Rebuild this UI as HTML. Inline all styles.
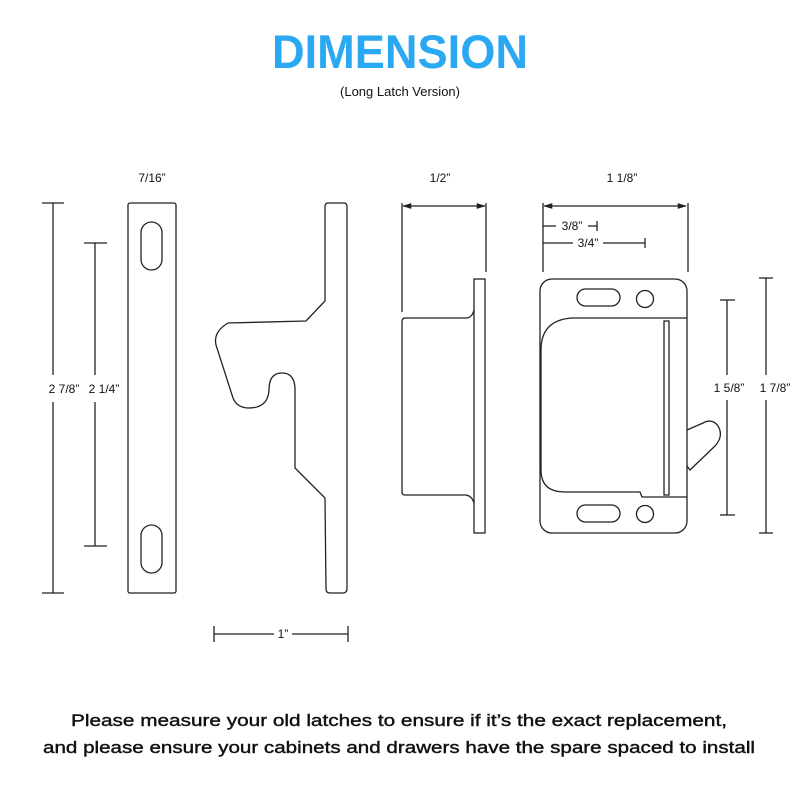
<!DOCTYPE html>
<html><head><meta charset="utf-8"><style>
body{margin:0;background:#fff}
svg{display:block}
text{font-family:"Liberation Sans",sans-serif}
</style></head><body>
<svg width="800" height="800" viewBox="0 0 800 800" xmlns="http://www.w3.org/2000/svg">
<rect width="800" height="800" fill="#fff"/>
<text x="400" y="68" text-anchor="middle" font-size="47" font-weight="bold" fill="#2aa8f2" textLength="256" lengthAdjust="spacingAndGlyphs">DIMENSION</text>
<text x="400" y="96" text-anchor="middle" font-size="13" fill="#111">(Long Latch Version)</text>

<g stroke="#222" stroke-width="1.3" fill="none">
<rect x="128" y="203" width="48" height="390" rx="2"/>
<rect x="141" y="222" width="21" height="48" rx="10.5"/>
<rect x="141" y="525" width="21" height="48" rx="10.5"/>
<line x1="53" y1="203" x2="53" y2="375"/><line x1="53" y1="402" x2="53" y2="593"/>
<line x1="42" y1="203" x2="64" y2="203"/><line x1="42" y1="593" x2="64" y2="593"/>
<line x1="95" y1="243" x2="95" y2="375"/><line x1="95" y1="402" x2="95" y2="546"/>
<line x1="84" y1="243" x2="107" y2="243"/><line x1="84" y1="546" x2="107" y2="546"/>
<path d="M328,203 L344,203 Q347,203 347,207 L347,588 Q347,593 343,593 L330,593 Q326,593 326,589 L325,498 L295,468 L295,390 Q295,373 282,373 Q269,373 269,390 Q268,408 249,408 Q237,408 233,398 L216,345 Q213,332 228,323 L306,321 L325,301 L325,207 Q325,203 328,203 Z"/>
<line x1="214" y1="634" x2="274" y2="634"/><line x1="292" y1="634" x2="348" y2="634"/>
<line x1="214" y1="626" x2="214" y2="642"/><line x1="348" y1="626" x2="348" y2="642"/>
<rect x="474" y="279" width="11" height="254"/>
<path d="M474,310 Q472,318 466,318 L405,318 Q402,318 402,322 L402,492 Q402,495 405,495 L466,495 Q472,496 474,503"/>
<line x1="402" y1="203" x2="402" y2="312"/><line x1="486" y1="203" x2="486" y2="272"/>
<line x1="403" y1="206" x2="485" y2="206"/>
<rect x="540" y="279" width="147" height="254" rx="12"/>
<rect x="577" y="289" width="43" height="17" rx="8.5"/>
<circle cx="645" cy="299" r="8.5"/>
<rect x="577" y="505" width="43" height="17" rx="8.5"/>
<circle cx="645" cy="514" r="8.5"/>
<path d="M687,318 L572,318 Q541,320 541,350 L541,470 Q541,492 565,492 L640,492 L642,497 L687,497"/>
<rect x="664" y="321" width="5" height="174"/>
<path d="M687,430 L703,423 Q712,418 718,426 Q724,436 715,446 L690,470 L687,466"/>
<line x1="543" y1="203" x2="543" y2="272"/><line x1="688" y1="203" x2="688" y2="272"/>
<line x1="544" y1="206" x2="686" y2="206"/>
<line x1="543" y1="226" x2="556" y2="226"/><line x1="588" y1="226" x2="597" y2="226"/><line x1="597" y1="221" x2="597" y2="231"/>
<line x1="543" y1="243" x2="573" y2="243"/><line x1="603" y1="243" x2="645" y2="243"/><line x1="645" y1="238" x2="645" y2="248"/>
<line x1="727" y1="300" x2="727" y2="375"/><line x1="727" y1="400" x2="727" y2="515"/>
<line x1="720" y1="300" x2="735" y2="300"/><line x1="720" y1="515" x2="735" y2="515"/>
<line x1="766" y1="278" x2="766" y2="375"/><line x1="766" y1="400" x2="766" y2="533"/>
<line x1="759" y1="278" x2="773" y2="278"/><line x1="759" y1="533" x2="773" y2="533"/>
</g>
<g fill="#222" stroke="#222" stroke-width="0.6">
<path d="M403,206 l8,-2.5 v5 z M485,206 l-8,-2.5 v5 z M544,206 l8,-2.5 v5 z M686,206 l-8,-2.5 v5 z"/>
</g>
<g font-size="12" fill="#111">
<text x="152" y="182" text-anchor="middle">7/16”</text>
<text x="64" y="393" text-anchor="middle">2 7/8”</text>
<text x="104" y="393" text-anchor="middle">2 1/4”</text>
<text x="283" y="638" text-anchor="middle">1”</text>
<text x="440" y="182" text-anchor="middle">1/2”</text>
<text x="622" y="182" text-anchor="middle">1 1/8”</text>
<text x="572" y="230" text-anchor="middle">3/8”</text>
<text x="588" y="247" text-anchor="middle">3/4”</text>
<text x="729" y="392" text-anchor="middle">1 5/8”</text>
<text x="775" y="392" text-anchor="middle">1 7/8”</text>
</g>
<g font-size="16.5" fill="#111" stroke="#111" stroke-width="0.4" text-anchor="middle">
<text x="399" y="726" textLength="656" lengthAdjust="spacingAndGlyphs">Please measure your old latches to ensure if it’s the exact replacement,</text>
<text x="399" y="753" textLength="712" lengthAdjust="spacingAndGlyphs">and please ensure your cabinets and drawers have the spare spaced to install</text>
</g>
</svg>
</body></html>
